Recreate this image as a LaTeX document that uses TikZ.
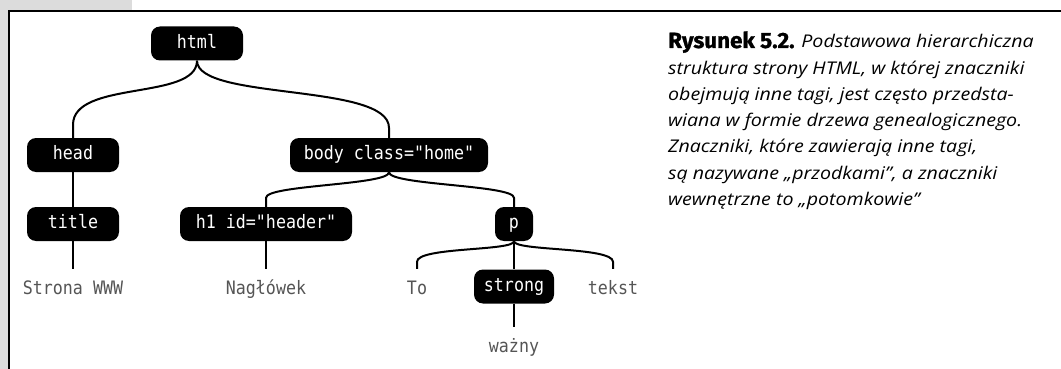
\documentclass[tikz,border=0pt]{standalone}
\usepackage{fontspec}
\usetikzlibrary{calc}
\newfontfamily\treemono[FakeStretch=0.9]{DejaVu Sans Mono}
\newfontfamily\capit[FakeStretch=1.12]{Open Sans}
\newfontfamily\capbf[FakeStretch=1.02,FakeBold=1.2]{Fira Sans}
\definecolor{pagegray}{HTML}{DCDCDC}
\definecolor{leafgray}{HTML}{555555}
\newcommand\treeconn[5]{%
  \draw[link] (#1.south) .. controls ($(#1.south)+(0,#3)$) and ($(#2.north)+(0,-#4-#5)$) .. ($(#2.north)+(0,-#5)$) -- (#2.north);}
\begin{document}
\begin{tikzpicture}[x=1pt,y=-1pt,
  tag/.style={fill=black, text=white, rounded corners=9pt, font=\treemono\fontsize{18.5}{21}\selectfont, minimum height=34pt, inner xsep=9pt, inner ysep=0pt, text height=13pt, text depth=3.5pt},
  leaf/.style={text=leafgray, font=\treemono\fontsize{18.5}{21}\selectfont, inner xsep=0pt, inner ysep=12pt, text height=13pt, text depth=4pt, anchor=base},
  link/.style={line width=2pt, draw=black},
  capline/.style={anchor=base west, inner sep=0pt, font=\capit\itshape\fontsize{17.5}{21}\selectfont, text=black}
]
\useasboundingbox (0,0) rectangle (1061,369);
\fill[pagegray] (0,0) rectangle (132,10);
\fill[pagegray] (0,0) rectangle (8,369);
\draw[line width=2.5pt] (1061,11) -- (9.2,11) -- (9.2,369);

% tags
\node[tag, minimum width=92pt] (html) at (197,43.5) {html};
\node[tag, minimum width=92pt] (head) at (73,155) {head};
\node[tag, minimum width=198pt] (body) at (389,155) {body class="home"};
\node[tag, minimum width=92pt] (title) at (73,224) {title};
\node[tag, minimum width=172pt] (h1) at (266,224) {h1 id="header"};
\node[tag, minimum width=38pt] (p) at (514,224) {p};
\node[tag, minimum width=80pt] (strong) at (514,286.5) {strong};

% leaves
\node[leaf] (strona) at (73,294) {Strona WWW};
\node[leaf] (naglowek) at (266,294) {Nagłówek};
\node[leaf] (to) at (417,294) {To};
\node[leaf] (tekst) at (613,294) {tekst};
\node[leaf] (wazny) at (514,352) {ważny};

% connectors
\treeconn{html}{head}{40}{45}{13}
\treeconn{html}{body}{40}{45}{10}
\draw[link] (head.south) -- (title.north);
\draw[link] (title.south) -- (strona.north);
\treeconn{body}{h1}{13}{13}{9}
\treeconn{body}{p}{13}{13}{9}
\draw[link] (h1.south) -- (naglowek.north);
\treeconn{p}{to}{10}{15}{7}
\treeconn{p}{tekst}{10}{15}{7}
\draw[link] (p.south) -- (strong.north);
\draw[link] (strong.south) -- (wazny.north);

% caption
\node[capline] (c1) at (668,48) {{\capbf\upshape\bfseries\fontsize{22}{24}\selectfont Rysunek 5.2.} Podstawowa hierarchiczna};
\node[capline] (c2) at (668,74.2) {struktura strony HTML, w której znaczniki};
\node[capline] (c3) at (668,100.4) {obejmują inne tagi, jest często przedsta-};
\node[capline] (c4) at (668,126.6) {wiana w formie drzewa genealogicznego.};
\node[capline] (c5) at (668,152.8) {Znaczniki, które zawierają inne tagi,};
\node[capline] (c6) at (668,179) {są nazywane „przodkami”, a znaczniki};
\node[capline] (c7) at (668,205.2) {wewnętrzne to „potomkowie”};
\end{tikzpicture}
\end{document}
